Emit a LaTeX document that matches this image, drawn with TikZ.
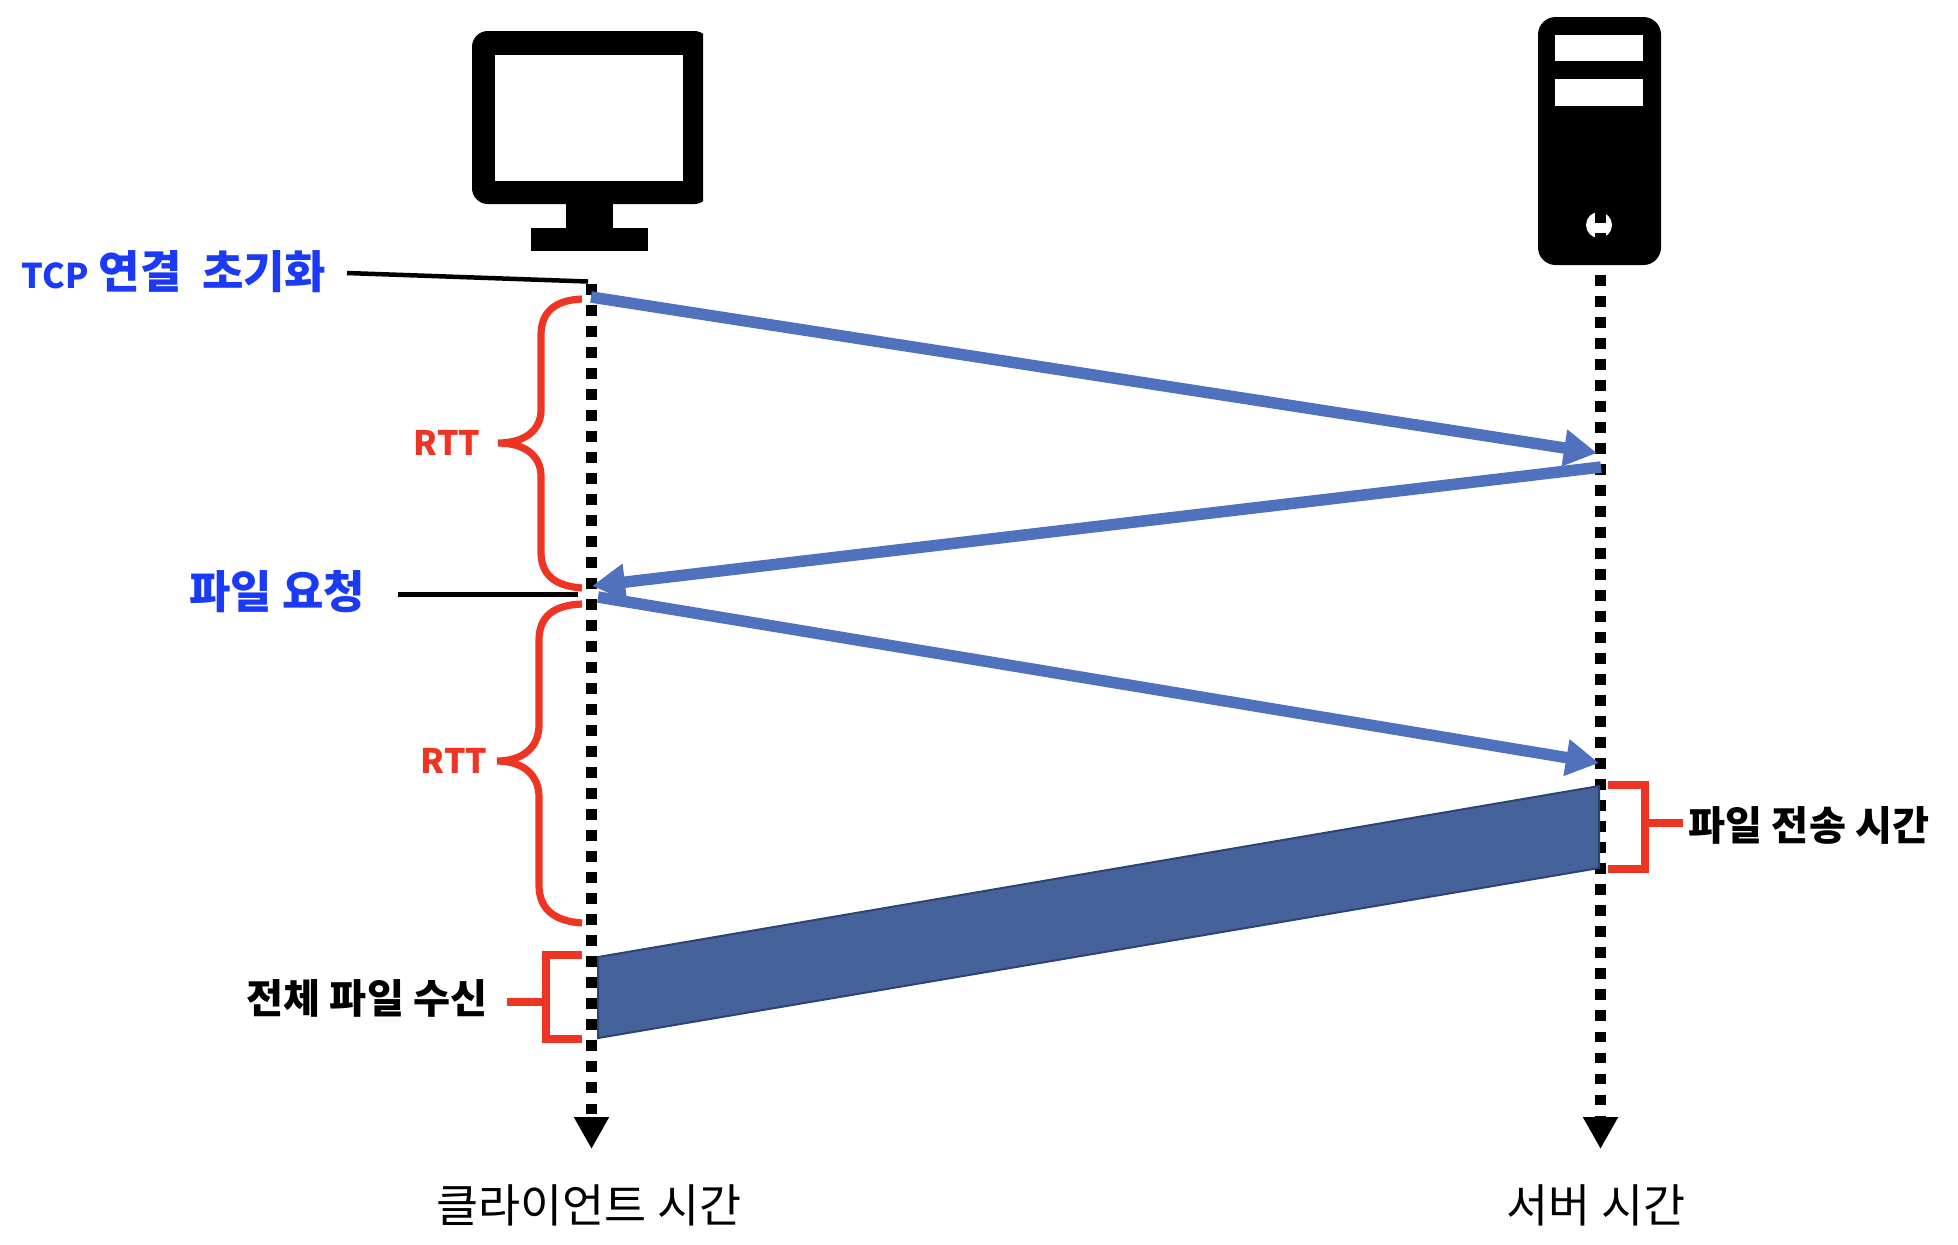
\documentclass[tikz,border=0pt]{standalone}
\usepackage{fontspec}
\setmainfont{Noto Sans CJK KR}
\usetikzlibrary{arrows.meta}
\definecolor{msgblue}{HTML}{5071BE}
\definecolor{labelblue}{HTML}{1A3AF5}
\definecolor{markred}{HTML}{EE3524}
\definecolor{datablue}{HTML}{46629A}
\definecolor{dataedge}{HTML}{2C4470}
\tikzset{
    timeline/.style={line width=1.1mm, dash pattern=on 1.05mm off 1.05mm, -{Triangle[length=3.2mm,width=3.3mm]}},
    msg/.style={draw=msgblue, line width=1.15mm, -{Triangle[length=3.3mm,width=3.5mm]}},
    lead/.style={draw=black, line width=0.45mm},
    redmark/.style={draw=markred, line width=0.72mm},
    bluetext/.style={font=\bfseries\fontsize{12.8}{12.8}\selectfont, text=labelblue, inner sep=0pt},
    blacktext/.style={font=\bfseries\fontsize{11.45}{11.45}\selectfont, text=black, inner sep=0pt},
    redtext/.style={font=\bfseries\fontsize{9.6}{9.6}\selectfont, text=markred, inner sep=0pt},
    plaintext/.style={font=\fontsize{13}{13}\selectfont, text=black, inner sep=0pt}
}
\begin{document}
\begin{tikzpicture}[x=0.01cm, y=-0.01cm]
    \useasboundingbox (0,0) rectangle (1958,1244);

    % monitor
    \begin{scope}
        \clip (460,20) rectangle (703,260);
        \fill[black, rounded corners=4.5pt] (472,31) rectangle (710,204);
    \end{scope}
    \fill[white] (495,55) rectangle (683,181);
    \fill[black] (566,204) rectangle (613,228);
    \fill[black] (531,228) rectangle (648,251);

    % server
    \fill[black, rounded corners=5pt] (1538,17) rectangle (1661,265);
    \fill[white] (1555,35) rectangle (1643,61);
    \fill[white] (1555,79) rectangle (1643,106);
    \fill[white] (1599,225) circle (13);

    % time lines
    \coordinate (clienttop) at (591.5,284);
    \coordinate (clientend) at (591.5,1149);
    \coordinate (servertop) at (1600.5,212);
    \coordinate (serverend) at (1600.5,1149);
    \draw[timeline] (clienttop) -- (clientend);
    \draw[timeline] (servertop) -- (serverend);

    % messages
    \coordinate (syn) at (591,297);
    \coordinate (synend) at (1597,453);
    \coordinate (ack) at (1601,467);
    \coordinate (ackend) at (592,586);
    \coordinate (req) at (598,597);
    \coordinate (reqend) at (1599,763);
    \draw[msg] (syn) -- (synend);
    \draw[msg] (ack) -- (ackend);
    \draw[msg] (req) -- (reqend);

    % file data
    \draw[fill=datablue, draw=dataedge, line width=0.2mm]
        (598,957) -- (1599,786) -- (1599,868) -- (598,1038) -- cycle;

    % rtt braces
    \draw[redmark] (582,299) .. controls (555,300) and (541,312) .. (541,335) -- (541,410)
        .. controls (541,430) and (525,443) .. (498,443)
        .. controls (525,443) and (541,456) .. (541,476) -- (541,552)
        .. controls (541,575) and (555,586) .. (582,588);
    \draw[redmark] (582,604) .. controls (553,605) and (539,617) .. (539,640) -- (539,725)
        .. controls (539,747) and (523,761) .. (497,761)
        .. controls (523,761) and (539,775) .. (539,797) -- (539,885)
        .. controls (539,908) and (553,921) .. (582,923);
    \node[redtext] (rtta) at (447,443) {RTT};
    \node[redtext] (rttb) at (454,761) {RTT};

    % brackets
    \draw[redmark] (1608,785) -- (1645,785) -- (1645,869) -- (1608,869);
    \draw[redmark] (1645,823) -- (1683,823);
    \draw[redmark] (582,955) -- (546,955) -- (546,1039) -- (582,1039);
    \draw[redmark] (546,1002) -- (507,1002);

    % labels
    \node[bluetext] (tcp) at (174,272) {{\fontsize{9.7}{9.7}\selectfont TCP} 연결\ \ 초기화};
    \node[bluetext] (fileReq) at (277,592) {파일 요청};
    \node[blacktext] (sendTime) at (1809,825) {파일 전송 시간};
    \node[blacktext] (recvTime) at (367,998) {전체 파일 수신};
    \node[plaintext] (clientTime) at (589,1205) {클라이언트 시간};
    \node[plaintext] (serverTime) at (1596,1205) {서버 시간};

    % lead lines
    \coordinate (tcplead) at (588,281.5);
    \coordinate (reqlead) at (578,594);
    \draw[lead] (347,273) -- (tcplead);
    \draw[lead, line width=0.5mm] (398,594) -- (reqlead);
\end{tikzpicture}
\end{document}
